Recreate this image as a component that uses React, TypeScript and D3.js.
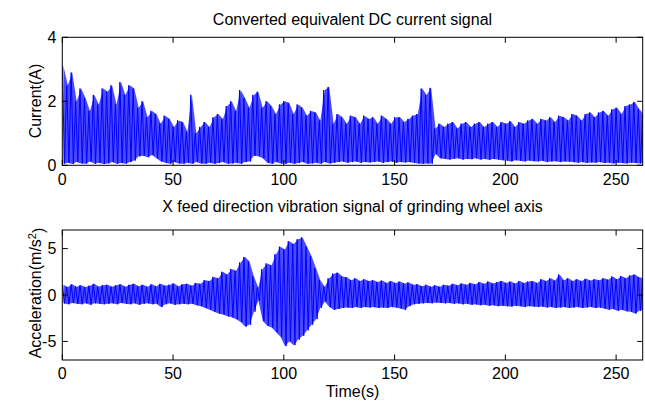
import React, { useEffect, useRef } from 'react';
import * as d3 from 'd3';

// Envelope of the dense signals in 2 s bins.
// Peak value of each bin sits at t = 2i, trough at t = 2i + 1.
const currentPeaks = [
  3.1, 2.5, 2.9, 2.0, 2.4, 2.1, 1.7, 2.2, 1.9, 2.4,
  2.3, 2.5, 1.9, 2.6, 2.2, 2.5, 2.4, 1.8, 2.0, 1.5,
  1.7, 1.6, 1.3, 1.55, 1.45, 1.2, 1.4, 1.35, 1.05, 2.2,
  1.0, 1.2, 1.35, 1.2, 1.5, 1.6, 1.45, 1.85, 2.0, 1.7,
  2.35, 2.1, 1.8, 2.2, 2.3, 1.8, 2.0, 1.85, 1.6, 1.9,
  2.0, 1.95, 1.6, 1.9, 1.8, 1.55, 1.7, 1.65, 1.4, 2.35,
  2.45, 1.3, 1.6, 1.5, 1.3, 1.55, 1.5, 1.3, 1.55, 1.45,
  1.5, 1.3, 1.55, 1.45, 1.3, 1.5, 1.5, 1.35, 1.45, 1.55,
  1.6, 2.4, 2.2, 2.42, 1.15, 1.3, 1.2, 1.3, 1.35, 1.15,
  1.3, 1.35, 1.2, 1.3, 1.35, 1.2, 1.3, 1.35, 1.2, 1.35,
  1.3, 1.38, 1.2, 1.35, 1.3, 1.4, 1.45, 1.3, 1.45, 1.4,
  1.5, 1.35, 1.55, 1.5, 1.4, 1.6, 1.55, 1.4, 1.6, 1.65,
  1.5, 1.65, 1.7, 1.55, 1.75, 1.8, 1.6, 1.85, 1.9, 1.98,
  1.75, 1.6,
];
const currentTroughs = [
  0.05, 0.08, 0.04, 0.1, 0.06, 0.05, 0.12, 0.05, 0.08, 0.04,
  0.06, 0.1, 0.05, 0.07, 0.05, 0.1, 0.15, 0.28, 0.3, 0.25,
  0.32, 0.22, 0.12, 0.08, 0.05, 0.1, 0.06, 0.05, 0.08, 0.05,
  0.1, 0.06, 0.05, 0.08, 0.05, 0.07, 0.1, 0.05, 0.06, 0.08,
  0.05, 0.1, 0.12, 0.3, 0.28, 0.22, 0.08, 0.05, 0.1, 0.06,
  0.05, 0.08, 0.05, 0.07, 0.1, 0.05, 0.06, 0.08, 0.05, 0.1,
  0.06, 0.08, 0.1, 0.12, 0.08, 0.1, 0.12, 0.08, 0.1, 0.09,
  0.1, 0.12, 0.08, 0.1, 0.12, 0.08, 0.1, 0.09, 0.1, 0.08,
  0.06, 0.05, 0.06, 0.05, 0.35, 0.22, 0.2, 0.18, 0.2, 0.22,
  0.18, 0.2, 0.19, 0.22, 0.18, 0.2, 0.17, 0.2, 0.18, 0.16,
  0.15, 0.12, 0.16, 0.14, 0.12, 0.15, 0.13, 0.12, 0.14, 0.1,
  0.12, 0.13, 0.1, 0.12, 0.11, 0.1, 0.08, 0.1, 0.07, 0.09,
  0.08, 0.1, 0.07, 0.08, 0.06, 0.08, 0.07, 0.06, 0.08, 0.07,
  0.06, 0.07,
];
const accelPeaks = [
  1.1, 0.85, 1.15, 0.9, 1.05, 0.85, 1.0, 1.2, 0.9, 1.05,
  1.1, 0.9, 1.05, 1.15, 0.9, 1.1, 1.2, 0.95, 1.1, 0.9,
  1.15, 0.95, 1.2, 1.0, 1.1, 1.25, 0.95, 1.15, 1.2, 1.0,
  1.3, 1.2, 1.6, 1.5, 1.95, 1.8, 2.5, 2.2, 2.8, 2.6,
  3.5, 4.1, 3.6, 2.0, 0.8, 2.8, 3.4, 3.2, 4.4, 5.2,
  4.9, 5.8, 5.5, 6.0, 6.2, 5.2, 4.2, 2.9, 1.6, 0.9,
  1.8, 2.3, 2.4, 2.0, 1.9, 1.6, 1.8, 1.5, 1.7, 1.5,
  1.6, 1.4, 1.55, 1.3, 1.5, 1.3, 1.45, 1.25, 1.35, 1.1,
  1.15, 0.95, 1.1, 0.9, 1.05, 0.9, 1.1, 1.0, 1.2, 1.05,
  1.25, 1.1, 1.3, 1.15, 1.4, 1.2, 1.45, 1.25, 1.4, 1.5,
  1.3, 1.45, 1.25, 1.5, 1.3, 1.45, 1.5, 1.3, 1.7, 1.5,
  1.8, 1.55, 2.2, 1.6, 1.8, 1.5, 1.7, 1.5, 1.75, 1.55,
  1.7, 1.6, 1.8, 1.65, 2.0, 1.7, 2.05, 1.8, 2.1, 2.2,
  1.9, 1.8,
];
const accelTroughs = [
  -0.9, -1.0, -0.85, -0.95, -1.0, -0.9, -1.05, -0.9, -0.95, -1.0,
  -0.95, -0.9, -1.0, -0.85, -0.95, -1.0, -0.9, -1.05, -0.95, -0.9,
  -1.0, -0.95, -1.3, -1.0, -0.9, -1.05, -1.0, -0.95, -1.0, -0.95,
  -1.1, -1.2, -1.4, -1.6, -1.8, -2.0, -2.1, -2.3, -2.4, -2.6,
  -2.9, -3.4, -3.2, -1.8, -0.6, -2.8, -3.3, -3.5, -4.0, -4.5,
  -5.5, -5.0, -5.4, -4.8, -4.4, -3.8, -3.2, -2.6, -1.4, -0.7,
  -1.3, -1.6, -1.5, -1.4, -1.35, -1.4, -1.3, -1.4, -1.3, -1.35,
  -1.3, -1.4, -1.35, -1.4, -1.3, -1.35, -1.45, -1.6, -1.2, -1.0,
  -0.95, -0.9, -0.85, -0.9, -0.8, -0.85, -0.9, -0.85, -0.95, -0.9,
  -1.0, -0.95, -1.05, -1.0, -1.1, -1.05, -1.15, -1.1, -1.2, -1.15,
  -1.2, -1.25, -1.15, -1.2, -1.3, -1.2, -1.25, -1.3, -1.25, -1.35,
  -1.3, -1.4, -1.35, -1.3, -1.4, -1.35, -1.3, -1.4, -1.35, -1.3,
  -1.4, -1.35, -1.45, -1.6, -1.5, -1.7, -1.6, -1.75, -1.8, -2.0,
  -1.7, -1.6,
];

const timeTicks = [0, 50, 100, 150, 200, 250];
const currentTicks = [0, 2, 4];
const accelTicks = [-5, 0, 5];

const W = 645;
const H = 403;
const FONT = '"Liberation Sans", Arial, Helvetica, sans-serif';
const FS = '16px';

type Panel = {
  top: number;
  bottom: number;
  domain: [number, number];
  ticks: number[];
  peaks: number[];
  troughs: number[];
  title: string;
  titleY: number;
  tickLabelY: number;
};

export default function App() {
  const ref = useRef<SVGSVGElement>(null);

  useEffect(() => {
    const svg = d3.select(ref.current);
    svg.selectAll('*').remove();

    const left = 62.3;
    const right = 642.7;
    const x = d3.scaleLinear().domain([0, 262]).range([left, right]);
    const tickLen = 5.5;

    const panels: Panel[] = [
      { top: 37.3, bottom: 165.3, domain: [0, 4], ticks: currentTicks, peaks: currentPeaks, troughs: currentTroughs, title: 'Converted equivalent DC current signal', titleY: 25, tickLabelY: 185 },
      { top: 230, bottom: 360, domain: [-7, 7], ticks: accelTicks, peaks: accelPeaks, troughs: accelTroughs, title: 'X feed direction vibration signal of grinding wheel axis', titleY: 212, tickLabelY: 379 },
    ];

    panels.forEach((p, k) => {
      const y = d3.scaleLinear().domain(p.domain).range([p.bottom, p.top]);
      const g = svg.append('g');
      const clipId = `clip-${k}`;
      g.append('clipPath').attr('id', clipId)
        .append('rect')
        .attr('x', left).attr('y', p.top)
        .attr('width', right - left).attr('height', p.bottom - p.top);

      const bins = p.peaks.map((v, i) => ({ t: 2 * i, hi: v, lo: p.troughs[i] }));
      const plot = g.append('g').attr('clip-path', `url(#${clipId})`);

      const area = d3.area<{ t: number; hi: number; lo: number }>()
        .x(d => x(d.t + 0.5))
        .y0(d => y(d.lo))
        .y1(d => y(d.hi));
      plot.append('path')
        .attr('d', area(bins))
        .attr('fill', '#0000ff')
        .attr('fill-opacity', 0.7);

      const zig: [number, number][] = [];
      bins.forEach(b => {
        zig.push([x(b.t), y(b.hi)]);
        zig.push([x(b.t + 1), y(b.lo)]);
      });
      plot.append('path')
        .attr('d', d3.line()(zig))
        .attr('fill', 'none')
        .attr('stroke', '#0000ff')
        .attr('stroke-width', 1);

      // box
      g.append('rect')
        .attr('x', left).attr('y', p.top)
        .attr('width', right - left).attr('height', p.bottom - p.top)
        .attr('fill', 'none').attr('stroke', '#000').attr('stroke-width', 1);

      // x ticks (inward, top and bottom)
      timeTicks.forEach(t => {
        g.append('line').attr('x1', x(t)).attr('x2', x(t)).attr('y1', p.bottom).attr('y2', p.bottom - tickLen).attr('stroke', '#000');
        g.append('line').attr('x1', x(t)).attr('x2', x(t)).attr('y1', p.top).attr('y2', p.top + tickLen).attr('stroke', '#000');
        g.append('text')
          .attr('x', x(t)).attr('y', p.tickLabelY)
          .attr('text-anchor', 'middle')
          .style('font-family', FONT).style('font-size', FS)
          .text(t);
      });

      // y ticks (inward, left and right)
      p.ticks.forEach(v => {
        g.append('line').attr('x1', left).attr('x2', left + tickLen).attr('y1', y(v)).attr('y2', y(v)).attr('stroke', '#000');
        g.append('line').attr('x1', right).attr('x2', right - tickLen).attr('y1', y(v)).attr('y2', y(v)).attr('stroke', '#000');
        g.append('text')
          .attr('x', left - 6).attr('y', y(v))
          .attr('dy', '0.35em')
          .attr('text-anchor', 'end')
          .style('font-family', FONT).style('font-size', FS)
          .text(v);
      });

      g.append('text')
        .attr('x', (left + right) / 2).attr('y', p.titleY)
        .attr('text-anchor', 'middle')
        .style('font-family', FONT).style('font-size', FS)
        .text(p.title);
    });

    // y labels
    svg.append('text')
      .attr('transform', 'translate(41,101) rotate(-90)')
      .attr('text-anchor', 'middle')
      .style('font-family', FONT).style('font-size', FS)
      .text('Current(A)');

    const acc = svg.append('text')
      .attr('transform', 'translate(41,293) rotate(-90)')
      .attr('text-anchor', 'middle')
      .style('font-family', FONT).style('font-size', FS);
    acc.append('tspan').text('Acceleration(m/s');
    acc.append('tspan').attr('dy', '-0.5em').style('font-size', '11px').text('2');
    acc.append('tspan').attr('dy', '0.5em').text(')');

    svg.append('text')
      .attr('x', (left + right) / 2).attr('y', 397)
      .attr('text-anchor', 'middle')
      .style('font-family', FONT).style('font-size', FS)
      .text('Time(s)');
  }, []);

  return (
    <>
      <style>{'body{margin:0;background:#fff}'}</style>
      <svg ref={ref} width={W} height={H} viewBox={`0 0 ${W} ${H}`} style={{ display: 'block' }} />
    </>
  );
}
